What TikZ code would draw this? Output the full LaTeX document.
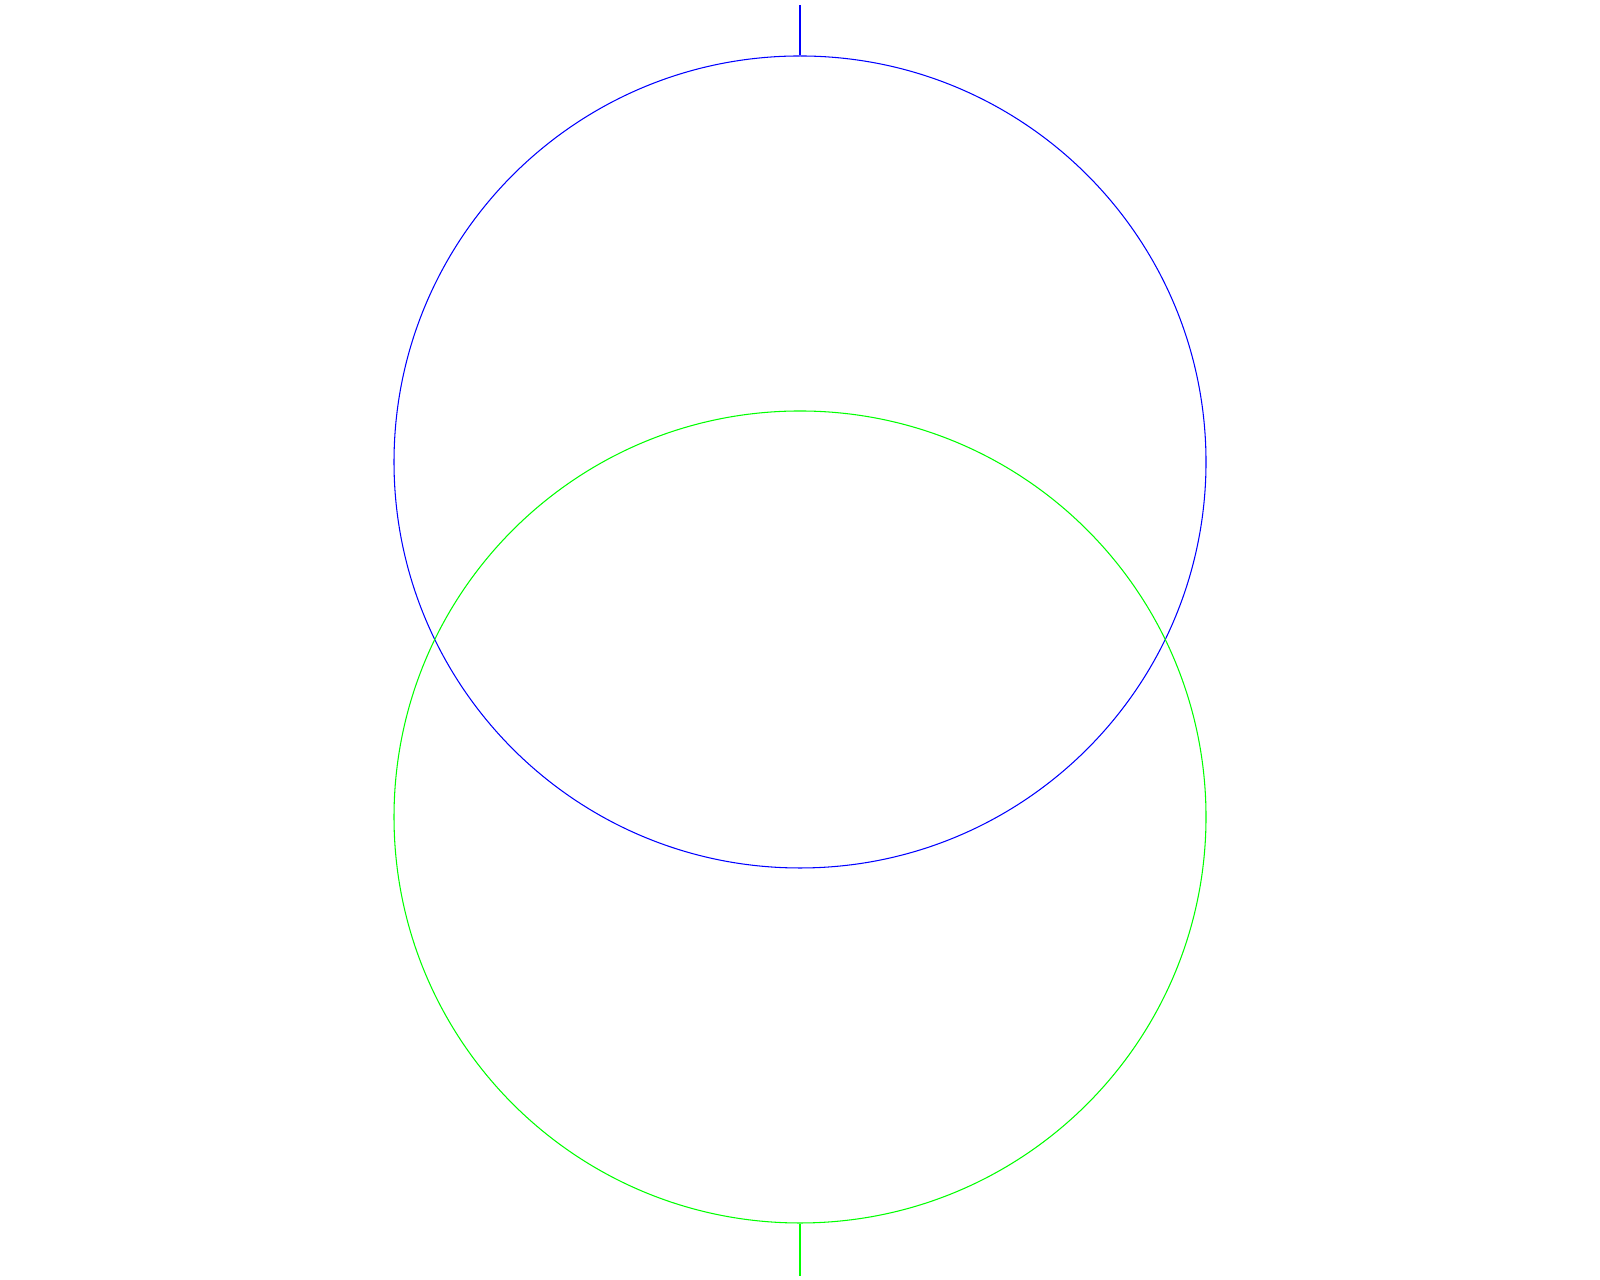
\documentclass[tikz,border=0pt]{standalone}
\usepackage{tikz}
\usepackage{xcolor}

\definecolor{wblue}{RGB}{0,0,255}
\definecolor{wgreen}{RGB}{0,255,0}

\begin{document}
\begin{tikzpicture}[
  line width=0.3pt,  winding/.style={circle,draw,inner sep=0pt,minimum size=8.12cm}
]
  \useasboundingbox (0,0) rectangle (16,12.8);
  \node[winding,draw=wblue] (w1) at (8,8.18) {};
  \node[winding,draw=wgreen] (w2) at (8,4.63) {};
  \coordinate (t1) at (8,12.75);
  \coordinate (t2) at (8,0.04);
  \draw[wblue] (t1) -- (w1.north);
  \draw[wgreen] (w2.south) -- (t2);
\end{tikzpicture}
\end{document}
